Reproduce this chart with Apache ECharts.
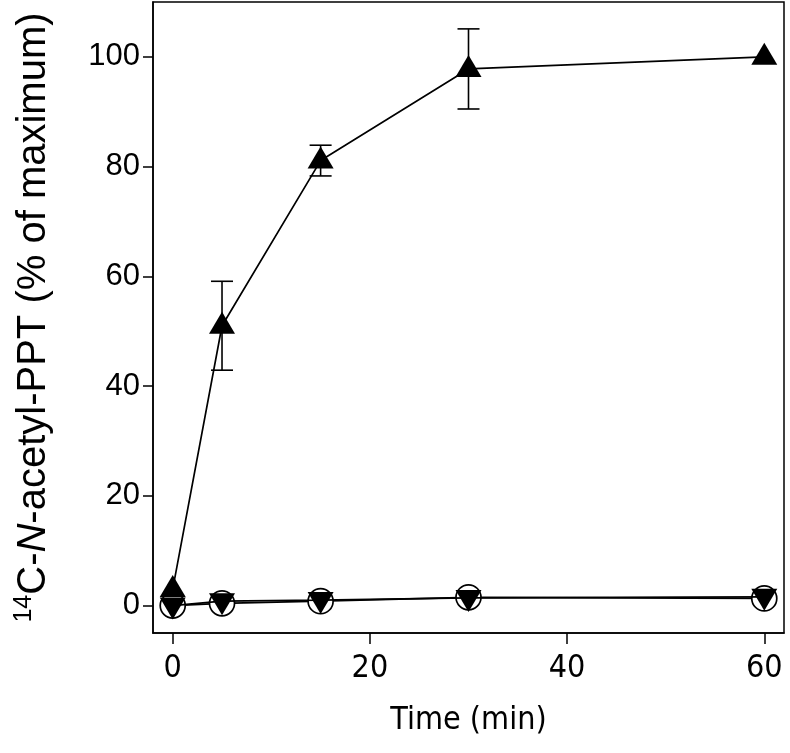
<!DOCTYPE html>
<html>
<head>
<meta charset="utf-8">
<script src="https://cdn.jsdelivr.net/npm/echarts@6/dist/echarts.min.js"></script>
<style>html,body{margin:0;padding:0;background:#fff;}#c{width:790px;height:753px;}</style>
</head>
<body>
<div id="c"></div>
<script>
// Data
var times = [0, 5, 15, 30, 60];
var upTriangle = [3, 51, 81.1, 97.8, 100];
var upTriangleErr = [0, 8.1, 2.8, 7.3, 0];
var openCircle = [0, 0.4, 0.8, 1.5, 1.3];
var downTriangle = [0, 0.8, 1.0, 1.4, 1.6];
var xTicks = [0, 20, 40, 60];
var yTicks = [0, 20, 40, 60, 80, 100];

function hasFont(name) {
  var c = document.createElement('canvas').getContext('2d');
  var s = 'abcdefghijklmnopqrstuvwxyz0123456789';
  c.font = '40px monospace'; var a = c.measureText(s).width;
  c.font = '40px "' + name + '", monospace'; var b = c.measureText(s).width;
  return Math.abs(a - b) > 0.5;
}
var narrowName = null;
['Liberation Sans Narrow', 'Arial Narrow', 'DejaVu Sans Condensed', 'Roboto Condensed', 'Open Sans Condensed'].forEach(function (n) {
  if (!narrowName && hasFont(n)) narrowName = n;
});
var REG = '"Liberation Sans", Arial, sans-serif';
var NARROW = narrowName ? '"' + narrowName + '", ' + REG : REG;
var xFontSize = narrowName ? 32 : 29;

function pairs(ys) { return times.map(function (t, i) { return [t, ys[i]]; }); }
var errData = times.map(function (t, i) { return [t, upTriangle[i] - upTriangleErr[i], upTriangle[i] + upTriangleErr[i]]; })
  .filter(function (d) { return d[2] > d[1]; });

var chart = echarts.init(document.getElementById('c'), null, { renderer: 'canvas' });
chart.setOption({
  backgroundColor: '#fff',
  animation: false,
  grid: { left: 153, right: 6, top: 2, bottom: 120, show: true, borderColor: '#000', borderWidth: 1.5, backgroundColor: 'transparent' },
  xAxis: {
    type: 'value', min: -2, max: 62,
    name: 'Time (min)', nameLocation: 'middle', nameGap: 72,
    nameTextStyle: { fontFamily: NARROW, fontSize: xFontSize, color: '#000' },
    axisLine: { show: true, onZero: false, lineStyle: { color: '#000', width: 1.5 } },
    axisTick: { show: true, inside: false, length: 11, lineStyle: { color: '#000', width: 1.5 }, customValues: xTicks },
    axisLabel: { show: true, margin: 20, fontFamily: NARROW, fontSize: xFontSize, color: '#000', customValues: xTicks },
    splitLine: { show: false }
  },
  yAxis: {
    type: 'value', min: -5, max: 110,
    name: '{sup|14}{t|C-}{i|N}{t|-acetyl-PPT (% of maximum)}', nameLocation: 'middle', nameGap: 97,
    nameTextStyle: {
      fontFamily: REG, fontSize: 40, color: '#000',
      rich: {
        t: { fontFamily: REG, fontSize: 40, color: '#000' },
        i: { fontFamily: REG, fontSize: 40, color: '#000', fontStyle: 'italic' },
        sup: { fontFamily: REG, fontSize: 25, color: '#000', padding: [0, 0, 19, 0] }
      }
    },
    axisLine: { show: true, onZero: false, lineStyle: { color: '#000', width: 1.5 } },
    axisTick: { show: true, inside: false, length: 10, lineStyle: { color: '#000', width: 1.5 }, customValues: yTicks },
    axisLabel: { show: true, margin: 13, fontFamily: REG, fontSize: 31, color: '#000', customValues: yTicks },
    splitLine: { show: false }
  },
  series: [
    {
      type: 'line', data: pairs(openCircle), symbol: 'circle', symbolSize: 25,
      lineStyle: { color: '#000', width: 1.7 },
      itemStyle: { color: '#fff', borderColor: '#000', borderWidth: 1.7 }, z: 2
    },
    {
      type: 'line', data: pairs(downTriangle), symbol: 'triangle', symbolSize: [26, 22], symbolRotate: 180, symbolOffset: [0, 3],
      lineStyle: { color: '#000', width: 1.7 },
      itemStyle: { color: '#000', borderWidth: 0 }, z: 3
    },
    {
      type: 'custom', z: 4,
      data: errData,
      renderItem: function (params, api) {
        var x = api.coord([api.value(0), api.value(1)])[0];
        var lo = api.coord([api.value(0), api.value(1)])[1];
        var hi = api.coord([api.value(0), api.value(2)])[1];
        var w = 11;
        var st = { stroke: '#000', lineWidth: 1.6 };
        return { type: 'group', children: [
          { type: 'line', shape: { x1: x, y1: lo, x2: x, y2: hi }, style: st },
          { type: 'line', shape: { x1: x - w, y1: lo, x2: x + w, y2: lo }, style: st },
          { type: 'line', shape: { x1: x - w, y1: hi, x2: x + w, y2: hi }, style: st }
        ] };
      }
    },
    {
      type: 'line', data: pairs(upTriangle), symbol: 'triangle', symbolSize: [26, 22], symbolOffset: [0, -3],
      lineStyle: { color: '#000', width: 1.7 },
      itemStyle: { color: '#000', borderWidth: 0 }, z: 5
    }
  ]
});
</script>
</body>
</html>
